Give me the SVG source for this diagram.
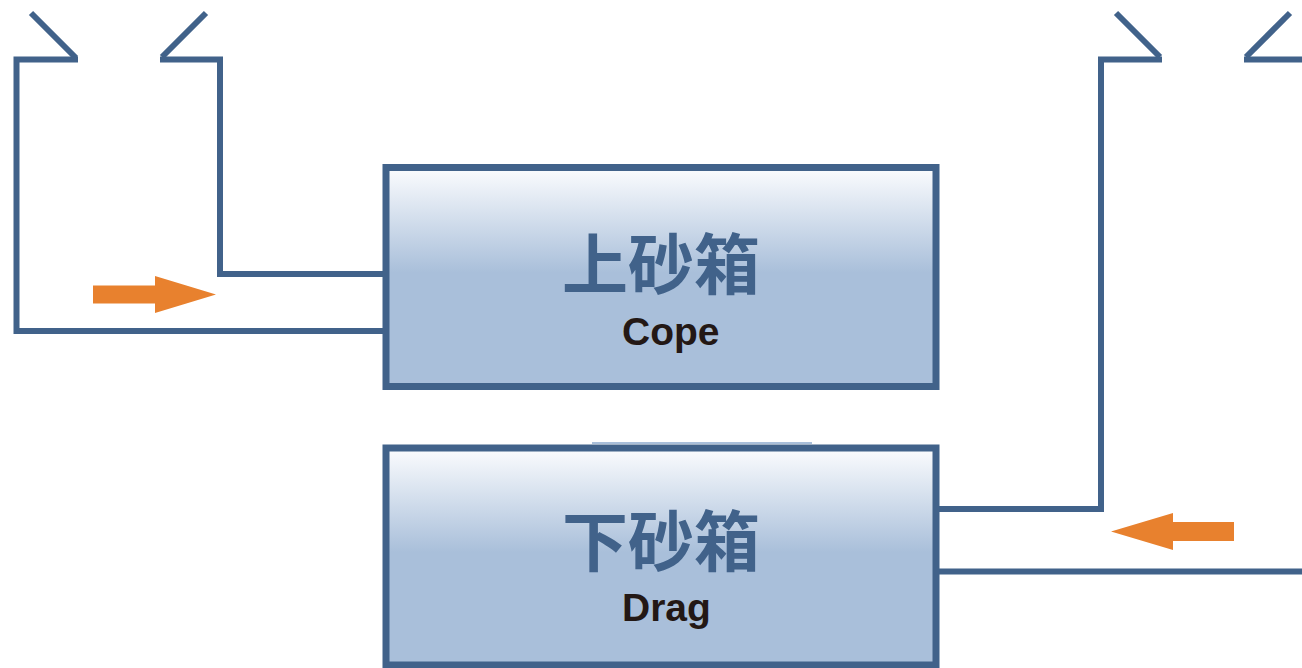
<svg xmlns="http://www.w3.org/2000/svg" width="1302" height="668" viewBox="0 0 1302 668">
<style>
.ln{fill:none;stroke:#41628A;stroke-width:6;stroke-linecap:butt;stroke-linejoin:miter}
.box{fill:url(#g);stroke:#41628A;stroke-width:7}
.cn{font-family:"Noto Sans CJK SC","Noto Sans CJK JP",sans-serif;font-weight:bold;font-size:66px;fill:#41628A}
.en{font-family:"Liberation Sans",Arial,sans-serif;font-weight:bold;font-size:39px;fill:#231815}
.ar{fill:#E8812E}
</style>
<defs>
<linearGradient id="g" x1="0" y1="0" x2="0" y2="1">
<stop offset="0" stop-color="#FBFCFE"/>
<stop offset="0.48" stop-color="#A9BFDA"/>
<stop offset="1" stop-color="#A9BFDA"/>
</linearGradient>
</defs>
<rect width="1302" height="668" fill="#FFFFFF"/>
<g id="connectors">
<line class="ln" x1="31" y1="13" x2="76" y2="58"/>
<path class="ln" d="M78,59.5 H16.5 V331 H384"/>
<line class="ln" x1="206" y1="13" x2="162" y2="57"/>
<path class="ln" d="M160,59.5 H220 V274 H384"/>
<line class="ln" x1="1116" y1="13" x2="1160" y2="57"/>
<path class="ln" d="M1162,59.5 H1101 V509 H938"/>
<line class="ln" x1="1290" y1="13" x2="1246" y2="57"/>
<path class="ln" d="M1244,59.5 H1306 V571.5 H938"/>
<path class="ar" d="M93,285.5 H155 V276 L216,294.5 L155,313 V303.5 H93 Z"/>
<path class="ar" d="M1234,522 H1173 V513 L1111,531.5 L1173,550 V541 H1234 Z"/>
</g>
<g id="cope">
<rect class="box" x="386" y="167.5" width="550" height="219"/>
<text class="cn" x="661" y="289" text-anchor="middle">上砂箱</text>
<text class="en" x="622" y="345">Cope</text>
</g>
<g id="drag">
<rect x="592" y="442" width="220" height="2" fill="#A9BFDA"/>
<rect class="box" x="386" y="448" width="550" height="217"/>
<text class="cn" x="661" y="566" text-anchor="middle">下砂箱</text>
<text class="en" x="622" y="621">Drag</text>
</g>
</svg>
